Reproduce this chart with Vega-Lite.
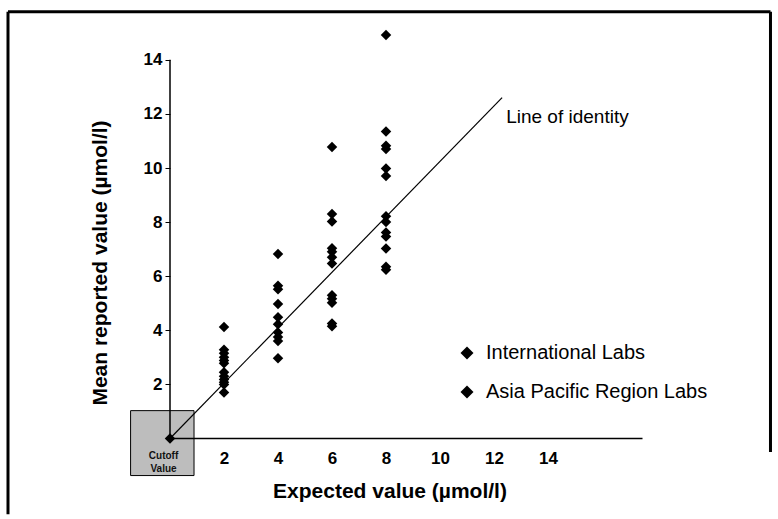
{
  "$schema": "https://vega.github.io/schema/vega-lite/v6.json",
  "width": 765,
  "height": 505,
  "autosize": "none",
  "padding": {"left": 7, "top": 10, "right": 6, "bottom": 4},
  "background": "white",
  "config": {
    "view": {"stroke": null},
    "font": "Liberation Sans",
    "legend": {
      "orient": "none",
      "legendX": 450,
      "legendY": 333,
      "title": null,
      "symbolType": "diamond",
      "symbolSize": 170,
      "symbolFillColor": "black",
      "symbolStrokeWidth": 0,
      "labelFont": "Liberation Sans",
      "labelFontSize": 20,
      "labelColor": "black",
      "labelOffset": 9,
      "labelLimit": 400,
      "rowPadding": 19
    }
  },
  "datasets": {
    "labs": [
      {"expected": 0, "reported": 0, "series": "International Labs"},
      {"expected": 2, "reported": 4.12, "series": "International Labs"},
      {"expected": 2, "reported": 3.28, "series": "Asia Pacific Region Labs"},
      {"expected": 2, "reported": 3.15, "series": "International Labs"},
      {"expected": 2, "reported": 3.0, "series": "Asia Pacific Region Labs"},
      {"expected": 2, "reported": 2.88, "series": "International Labs"},
      {"expected": 2, "reported": 2.78, "series": "Asia Pacific Region Labs"},
      {"expected": 2, "reported": 2.45, "series": "International Labs"},
      {"expected": 2, "reported": 2.3, "series": "Asia Pacific Region Labs"},
      {"expected": 2, "reported": 2.18, "series": "International Labs"},
      {"expected": 2, "reported": 2.08, "series": "Asia Pacific Region Labs"},
      {"expected": 2, "reported": 2.0, "series": "International Labs"},
      {"expected": 2, "reported": 1.7, "series": "Asia Pacific Region Labs"},
      {"expected": 4, "reported": 6.82, "series": "International Labs"},
      {"expected": 4, "reported": 5.65, "series": "Asia Pacific Region Labs"},
      {"expected": 4, "reported": 5.52, "series": "International Labs"},
      {"expected": 4, "reported": 4.97, "series": "Asia Pacific Region Labs"},
      {"expected": 4, "reported": 4.48, "series": "International Labs"},
      {"expected": 4, "reported": 4.22, "series": "Asia Pacific Region Labs"},
      {"expected": 4, "reported": 3.92, "series": "International Labs"},
      {"expected": 4, "reported": 3.75, "series": "Asia Pacific Region Labs"},
      {"expected": 4, "reported": 3.6, "series": "International Labs"},
      {"expected": 4, "reported": 2.97, "series": "Asia Pacific Region Labs"},
      {"expected": 6, "reported": 10.78, "series": "International Labs"},
      {"expected": 6, "reported": 8.3, "series": "Asia Pacific Region Labs"},
      {"expected": 6, "reported": 8.02, "series": "International Labs"},
      {"expected": 6, "reported": 7.03, "series": "Asia Pacific Region Labs"},
      {"expected": 6, "reported": 6.9, "series": "International Labs"},
      {"expected": 6, "reported": 6.7, "series": "Asia Pacific Region Labs"},
      {"expected": 6, "reported": 6.47, "series": "International Labs"},
      {"expected": 6, "reported": 5.3, "series": "Asia Pacific Region Labs"},
      {"expected": 6, "reported": 5.17, "series": "International Labs"},
      {"expected": 6, "reported": 5.02, "series": "Asia Pacific Region Labs"},
      {"expected": 6, "reported": 4.25, "series": "International Labs"},
      {"expected": 6, "reported": 4.15, "series": "Asia Pacific Region Labs"},
      {"expected": 8, "reported": 14.92, "series": "International Labs"},
      {"expected": 8, "reported": 11.35, "series": "Asia Pacific Region Labs"},
      {"expected": 8, "reported": 10.82, "series": "International Labs"},
      {"expected": 8, "reported": 10.7, "series": "Asia Pacific Region Labs"},
      {"expected": 8, "reported": 9.98, "series": "International Labs"},
      {"expected": 8, "reported": 9.7, "series": "Asia Pacific Region Labs"},
      {"expected": 8, "reported": 8.22, "series": "International Labs"},
      {"expected": 8, "reported": 8.0, "series": "Asia Pacific Region Labs"},
      {"expected": 8, "reported": 7.62, "series": "International Labs"},
      {"expected": 8, "reported": 7.47, "series": "Asia Pacific Region Labs"},
      {"expected": 8, "reported": 7.02, "series": "International Labs"},
      {"expected": 8, "reported": 6.35, "series": "Asia Pacific Region Labs"},
      {"expected": 8, "reported": 6.24, "series": "International Labs"}
    ],
    "cutoff": [{"expected": -1.46, "expected2": 0.89, "reported": -1.37, "reported2": 1.03}],
    "axislines": [
      {"expected": 0, "reported": 0, "expected2": 0, "reported2": 14},
      {"expected": 0, "reported": 0, "expected2": 17.5, "reported2": 0}
    ],
    "identity": [{"expected": 0, "reported": 0, "expected2": 12.3, "reported2": 12.6}],
    "notes": [
      {"expected": 12.45, "reported": 11.88, "label": "Line of identity"}
    ],
    "cutoffText": [
      {"expected": -0.24, "reported": -0.65, "label": "Cutoff"},
      {"expected": -0.24, "reported": -1.13, "label": "Value"}
    ],
    "frame": [
      {"side": "left", "expected": -6.0, "expected2": -6.0, "reported": -2.8, "reported2": 15.78},
      {"side": "top", "expected": -6.0, "expected2": 22.24, "reported": 15.78, "reported2": 15.78},
      {"side": "right", "expected": 22.24, "expected2": 22.24, "reported": -0.5, "reported2": 15.78}
    ]
  },
  "layer": [
    {
      "data": {"name": "cutoff"},
      "mark": {"type": "rect", "fill": "#bdbdbd", "stroke": "black", "strokeWidth": 1},
      "encoding": {
        "x": {"field": "expected", "type": "quantitative"},
        "x2": {"field": "expected2"},
        "y": {"field": "reported", "type": "quantitative"},
        "y2": {"field": "reported2"}
      }
    },
    {
      "data": {"name": "cutoffText"},
      "mark": {"type": "text", "font": "Liberation Sans", "fontWeight": "bold", "fontSize": 10, "color": "#111111", "align": "center", "baseline": "middle"},
      "encoding": {
        "x": {"field": "expected", "type": "quantitative"},
        "y": {"field": "reported", "type": "quantitative"},
        "text": {"field": "label"}
      }
    },
    {
      "data": {"name": "axislines"},
      "mark": {"type": "rule", "color": "black", "strokeWidth": 1.5},
      "encoding": {
        "x": {"field": "expected", "type": "quantitative"},
        "y": {"field": "reported", "type": "quantitative"},
        "x2": {"field": "expected2"},
        "y2": {"field": "reported2"}
      }
    },
    {
      "data": {"name": "identity"},
      "mark": {"type": "rule", "color": "black", "strokeWidth": 1.2},
      "encoding": {
        "x": {"field": "expected", "type": "quantitative"},
        "y": {"field": "reported", "type": "quantitative"},
        "x2": {"field": "expected2"},
        "y2": {"field": "reported2"}
      }
    },
    {
      "data": {"name": "labs"},
      "mark": {"type": "point", "shape": "diamond", "filled": true, "size": 110, "opacity": 1},
      "encoding": {
        "x": {
          "field": "expected",
          "type": "quantitative",
          "scale": {"domain": [-6.037, 22.296], "nice": false, "zero": false},
          "axis": {
            "title": "Expected value (µmol/l)",
            "values": [2, 4, 6, 8, 10, 12, 14],
            "domain": false,
            "grid": false,
            "ticks": false,
            "offset": -76.5,
            "labelPadding": 12,
            "labelFont": "Liberation Sans",
            "labelFontWeight": "bold",
            "labelFontSize": 17,
            "labelColor": "black",
            "titleFont": "Liberation Sans",
            "titleFontWeight": "bold",
            "titleFontSize": 21,
            "titleColor": "black",
            "titlePadding": 14
          }
        },
        "y": {
          "field": "reported",
          "type": "quantitative",
          "scale": {"domain": [-2.828, 15.841], "nice": false, "zero": false},
          "axis": {
            "title": "Mean reported value (µmol/l)",
            "values": [2, 4, 6, 8, 10, 12, 14],
            "domain": false,
            "grid": false,
            "ticks": true,
            "tickSize": 5,
            "tickColor": "black",
            "tickWidth": 1,
            "offset": -163,
            "labelPadding": 3,
            "labelFont": "Liberation Sans",
            "labelFontWeight": "bold",
            "labelFontSize": 17,
            "labelColor": "black",
            "titleFont": "Liberation Sans",
            "titleFontWeight": "bold",
            "titleFontSize": 21,
            "titleColor": "black",
            "titlePadding": 33
          }
        },
        "color": {
          "field": "series",
          "type": "nominal",
          "scale": {"domain": ["International Labs", "Asia Pacific Region Labs"], "range": ["black", "black"]}
        }
      }
    },
    {
      "data": {"name": "notes"},
      "mark": {"type": "text", "font": "Liberation Sans", "fontSize": 19, "color": "black", "align": "left", "baseline": "middle"},
      "encoding": {
        "x": {"field": "expected", "type": "quantitative"},
        "y": {"field": "reported", "type": "quantitative"},
        "text": {"field": "label"}
      }
    },
    {
      "data": {"name": "frame"},
      "mark": {"type": "rule", "color": "black", "strokeWidth": 3},
      "encoding": {
        "x": {"field": "expected", "type": "quantitative"},
        "y": {"field": "reported", "type": "quantitative"},
        "x2": {"field": "expected2"},
        "y2": {"field": "reported2"}
      }
    }
  ]
}
